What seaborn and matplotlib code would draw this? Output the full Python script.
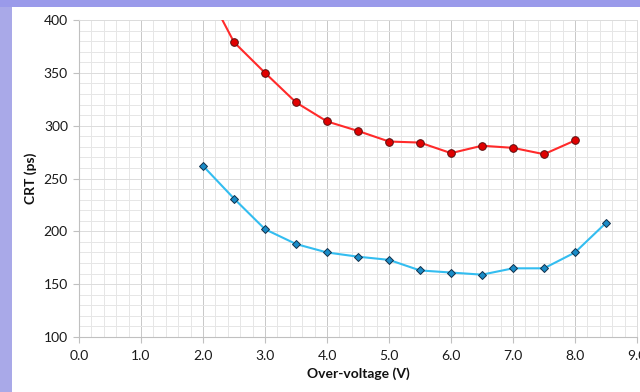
import matplotlib
matplotlib.use("Agg")
import matplotlib.pyplot as plt
import seaborn as sns
import numpy as np
import pandas as pd
from matplotlib.patches import Rectangle
from matplotlib.ticker import MultipleLocator

# Data
red_x = [2.0, 2.5, 3.0, 3.5, 4.0, 4.5, 5.0, 5.5, 6.0, 6.5, 7.0, 7.5, 8.0]
red_y = [435, 379, 350, 322, 304, 295, 285, 284, 274, 281, 279, 273, 286]
blue_x = [2.0, 2.5, 3.0, 3.5, 4.0, 4.5, 5.0, 5.5, 6.0, 6.5, 7.0, 7.5, 8.0, 8.5]
blue_y = [262, 231, 202, 188, 180, 176, 173, 163, 161, 159, 165, 165, 180, 208]
x_ticks = [0.0, 1.0, 2.0, 3.0, 4.0, 5.0, 6.0, 7.0, 8.0, 9.0]
x_tick_labels = ["0.0", "1.0", "2.0", "3.0", "4.0", "5.0", "6.0", "7.0", "8.0", "9.0"]
y_ticks = [100, 150, 200, 250, 300, 350, 400]
x_label = "Over-voltage (V)"
y_label = "CRT (ps)"

sns.set_style("white")
plt.rcParams["font.family"] = ["Lato", "DejaVu Sans"]

fig = plt.figure(figsize=(6.4, 3.92), dpi=100)
fig.patch.set_facecolor("white")
# lavender frame strips
fig.patches.append(Rectangle((0, 0), 12 / 640, 1, transform=fig.transFigure,
                             facecolor="#a9a9e8", edgecolor="none", zorder=0))
fig.patches.append(Rectangle((0, 1 - 7 / 392), 1, 7 / 392, transform=fig.transFigure,
                             facecolor="#9a9aea", edgecolor="none", zorder=0))

ax = fig.add_axes([79 / 640, 1 - 337 / 392, (637 - 79) / 640, (337 - 20) / 392])
ax.set_facecolor("white")

red_df = pd.DataFrame({"x": red_x, "y": red_y})
blue_df = pd.DataFrame({"x": blue_x, "y": blue_y})

sns.lineplot(data=red_df, x="x", y="y", ax=ax, color="#ff2a2a", linewidth=1.5,
             marker="o", markersize=5.5, markerfacecolor="#e00000",
             markeredgecolor="#5a1010", markeredgewidth=0.7, zorder=5)
sns.lineplot(data=blue_df, x="x", y="y", ax=ax, color="#33bdf0", linewidth=1.5,
             marker="D", markersize=4.2, markerfacecolor="#1a8cc8",
             markeredgecolor="#12304a", markeredgewidth=0.7, zorder=5)

ax.set_xlim(0, 9)
ax.set_ylim(100, 400)
ax.set_xticks(x_ticks)
ax.set_xticklabels(x_tick_labels)
ax.set_yticks(y_ticks)
ax.xaxis.set_minor_locator(MultipleLocator(0.2))
ax.yaxis.set_minor_locator(MultipleLocator(10))

ax.grid(True, which="minor", color="#e6e6e6", linewidth=0.7)
ax.grid(True, which="major", axis="x", color="#c8c8c8", linewidth=0.7)
ax.grid(True, which="major", axis="y", color="#dcdcdc", linewidth=0.7)
ax.set_axisbelow(True)

for s in ["top", "right"]:
    ax.spines[s].set_color("#dcdcdc")
    ax.spines[s].set_linewidth(0.7)
for s in ["left", "bottom"]:
    ax.spines[s].set_color("#c0c0c0")
    ax.spines[s].set_linewidth(0.8)

ax.tick_params(axis="both", which="major", labelsize=10, colors="#1a1a1a",
               length=4, color="#c0c0c0", direction="out", width=0.8)
ax.tick_params(axis="x", which="major", pad=5)
ax.tick_params(axis="y", which="major", pad=4, left=True)
ax.tick_params(axis="x", which="major", bottom=True)
ax.tick_params(which="minor", length=0)

ax.set_xlabel(x_label, fontsize=10, fontweight="bold", color="#111111", labelpad=4)
ax.set_ylabel(y_label, fontsize=10, fontweight="bold", color="#111111", labelpad=5)

fig.savefig("out.png", dpi=100, facecolor="white")
